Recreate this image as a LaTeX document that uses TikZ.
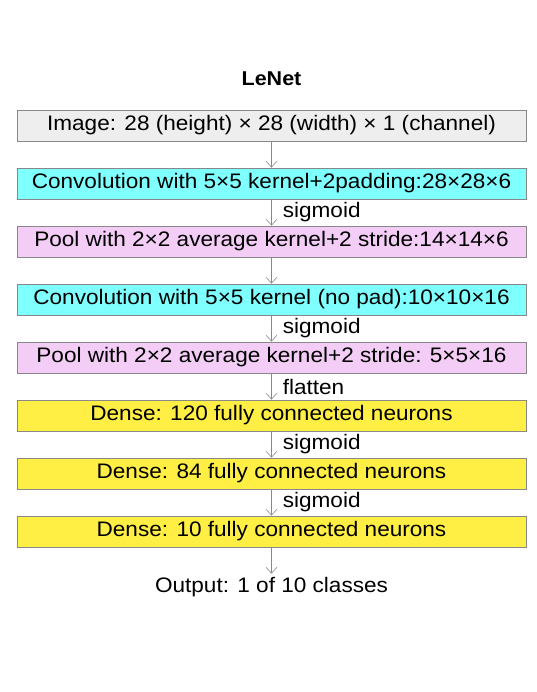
\documentclass[tikz,border=0pt]{standalone}
\usepackage{fontspec}
\setmainfont{Liberation Sans}[FakeStretch=1.075]
\usetikzlibrary{arrows.meta}
\definecolor{boxgray}{HTML}{EEEEEE}
\definecolor{boxcyan}{HTML}{80FFFF}
\definecolor{boxpink}{HTML}{F3CDF5}
\definecolor{boxyellow}{HTML}{FFEF44}
\definecolor{edgegray}{HTML}{888888}
\begin{document}
\begin{tikzpicture}[x=1pt,y=-1pt,
  layer/.style={draw=edgegray, line width=0.8pt, minimum width=509pt, minimum height=31pt,
    inner sep=0pt, font=\fontsize{21}{23}\selectfont, anchor=center},
  flow/.style={draw=edgegray, line width=0.6pt, -{Straight Barb[length=6pt,width=11pt]}},
  lbl/.style={font=\fontsize{21}{23}\selectfont, anchor=west, inner sep=0pt}]
\useasboundingbox (0,0) rectangle (536,692);
\node[font=\bfseries\fontsize{20}{22}\selectfont] (title) at (271.5,79) {LeNet};
\node[layer, fill=boxgray] (img) at (271.5,125.5) {Image: 28 (height) × 28 (width) × 1 (channel)};
\node[layer, fill=boxcyan] (c1) at (271.5,183.5) {Convolution with 5×5 kernel+2padding:28×28×6};
\node[layer, fill=boxpink] (p1) at (271.5,241.5) {Pool with 2×2 average kernel+2 stride:14×14×6};
\node[layer, fill=boxcyan] (c2) at (271.5,299.5) {Convolution with 5×5 kernel (no pad):10×10×16};
\node[layer, fill=boxpink] (p2) at (271.5,357.5) {Pool with 2×2 average kernel+2 stride: 5×5×16};
\node[layer, fill=boxyellow] (d1) at (271.5,415.5) {Dense: 120 fully connected neurons};
\node[layer, fill=boxyellow] (d2) at (271.5,473.5) {Dense: 84 fully connected neurons};
\node[layer, fill=boxyellow] (d3) at (271.5,531.5) {Dense: 10 fully connected neurons};
\node[font=\fontsize{21}{23}\selectfont] (out) at (271.5,587) {Output: 1 of 10 classes};
\draw[flow] (img) -- (c1);
\draw[flow] (c1) -- node[lbl, right=11pt] {sigmoid} (p1);
\draw[flow] (p1) -- (c2);
\draw[flow] (c2) -- node[lbl, right=11pt] {sigmoid} (p2);
\draw[flow] (p2) -- node[lbl, right=11pt] {flatten} (d1);
\draw[flow] (d1) -- node[lbl, right=11pt] {sigmoid} (d2);
\draw[flow] (d2) -- node[lbl, right=11pt] {sigmoid} (d3);
\draw[flow] (d3) -- (out);
\end{tikzpicture}
\end{document}
